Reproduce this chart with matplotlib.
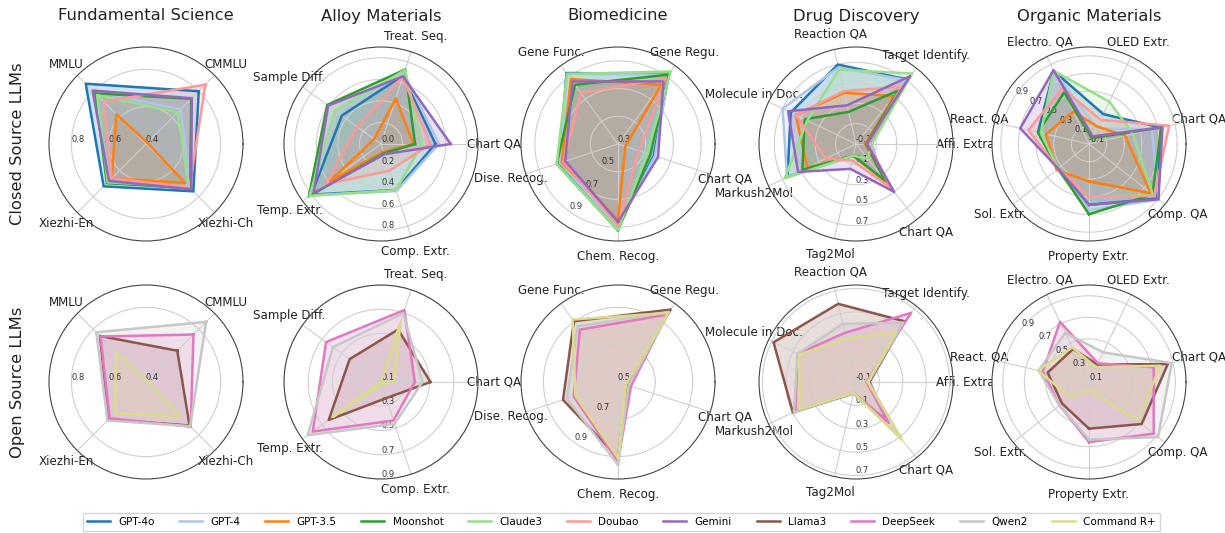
import numpy as np
import matplotlib.pyplot as plt

W, H = 1225, 533

closed_models = ["GPT-4o", "GPT-4", "GPT-3.5", "Moonshot", "Claude3", "Doubao", "Gemini"]
open_models = ["Llama3", "DeepSeek", "Qwen2", "Command R+"]
model_colors = {
    "GPT-4o": "#1f77b4", "GPT-4": "#aec7e8", "GPT-3.5": "#ff7f0e",
    "Moonshot": "#2ca02c", "Claude3": "#98df8a", "Doubao": "#ff9896",
    "Gemini": "#9467bd", "Llama3": "#8c564b", "DeepSeek": "#e377c2",
    "Qwen2": "#c7c7c7", "Command R+": "#dbdb8d",
}

domains = ["Fundamental Science", "Alloy Materials", "Biomedicine",
           "Drug Discovery", "Organic Materials"]

# categories listed counter-clockwise from the first one
fund_cats = ["CMMLU", "MMLU", "Xiezhi-En", "Xiezhi-Ch"]
alloy_cats = ["Chart QA", "Treat. Seq.", "Sample Diff.", "Temp. Extr.", "Comp. Extr."]
bio_cats = ["Chem. Recog.", "Chart QA", "Gene Regu.", "Gene Func.", "Dise. Recog."]
drug_cats = ["Affi. Extrac", "Target Identify.", "Reaction QA", "Molecule in Doc.",
             "Markush2Mol", "Tag2Mol", "Chart QA"]
org_cats = ["Property Extr.", "Comp. QA", "Chart QA", "OLED Extr.", "Electro. QA",
            "React. QA", "Sol. Extr."]

fund_closed = {
    "GPT-4o": [0.80, 0.857, 0.721, 0.759],
    "GPT-4": [0.662, 0.80, 0.675, 0.74],
    "GPT-3.5": [0.41, 0.625, 0.66, 0.695],
    "Moonshot": [0.743, 0.784, 0.697, 0.735],
    "Claude3": [0.64, 0.771, 0.69, 0.725],
    "Doubao": [0.85, 0.721, 0.66, 0.73],
    "Gemini": [0.747, 0.805, 0.68, 0.743],
}
fund_open = {
    "Llama3": [0.637, 0.749, 0.684, 0.73],
    "DeepSeek": [0.76, 0.745, 0.675, 0.739],
    "Qwen2": [0.856, 0.777, 0.692, 0.735],
    "Command R+": [0.41, 0.625, 0.637, 0.663],
}
alloy_closed = {
    "GPT-4o": [0.505, 0.67, 0.449, 0.80, 0.449],
    "GPT-4": [0.537, 0.688, 0.51, 0.81, 0.46],
    "GPT-3.5": [0.30, 0.445, 0.078, 0.586, 0.076],
    "Moonshot": [0.316, 0.727, 0.617, 0.828, 0.09],
    "Claude3": [0.38, 0.72, 0.527, 0.82, 0.45],
    "Doubao": [0.458, 0.654, 0.273, 0.633, 0.26],
    "Gemini": [0.647, 0.66, 0.606, 0.773, 0.10],
}
alloy_open = {
    "Llama3": [0.508, 0.555, 0.42, 0.633, 0.24],
    "DeepSeek": [0.379, 0.724, 0.66, 0.796, 0.434],
    "Qwen2": [0.442, 0.696, 0.59, 0.847, 0.463],
    "Command R+": [0.21, 0.622, 0.10, 0.591, 0.12],
}
bio_closed = {
    "GPT-4o": [0.899, 0.571, 0.927, 0.933, 0.745],
    "GPT-4": [0.899, 0.58, 0.918, 0.925, 0.74],
    "GPT-3.5": [0.85, 0.356, 0.828, 0.879, 0.727],
    "Moonshot": [0.923, 0.546, 0.918, 0.828, 0.765],
    "Claude3": [0.92, 0.52, 0.947, 0.925, 0.765],
    "Doubao": [0.887, 0.457, 0.888, 0.754, 0.715],
    "Gemini": [0.862, 0.604, 0.858, 0.858, 0.70],
}
bio_open = {
    "Llama3": [0.905, 0.55, 0.98, 0.903, 0.81],
    "DeepSeek": [0.926, 0.573, 0.947, 0.847, 0.75],
    "Qwen2": [0.944, 0.56, 0.965, 0.869, 0.788],
    "Command R+": [0.908, 0.545, 0.958, 0.914, 0.74],
}
drug_closed = {
    "GPT-4o": [0.046, 0.708, 0.698, 0.61, 0.645, 0.017, 0.315],
    "GPT-4": [0.056, 0.70, 0.67, 0.698, 0.65, 0.017, 0.30],
    "GPT-3.5": [-0.01, 0.50, 0.415, 0.555, 0.43, 0.02, 0.385],
    "Moonshot": [0.0, 0.572, 0.223, 0.458, 0.483, 0.017, 0.357],
    "Claude3": [0.056, 0.782, 0.648, 0.43, 0.674, 0.017, 0.085],
    "Doubao": [0.023, 0.617, 0.432, 0.555, 0.23, 0.066, 0.45],
    "Gemini": [0.007, 0.75, 0.289, 0.638, 0.53, 0.15, 0.50],
}
drug_open = {
    "Llama3": [0.017, 0.565, 0.586, 0.683, 0.50, 0.0, 0.33],
    "DeepSeek": [-0.01, 0.657, 0.331, 0.455, 0.477, -0.005, 0.35],
    "Qwen2": [0.007, 0.55, 0.41, 0.455, 0.49, -0.005, 0.52],
    "Command R+": [0.0, 0.455, 0.28, 0.44, 0.436, -0.005, 0.532],
}
org_closed = {
    "GPT-4o": [0.59, 0.89, 0.74, 0.275, 0.82, 0.494, 0.347],
    "GPT-4": [0.65, 0.91, 0.63, 0.10, 0.82, 0.45, 0.36],
    "GPT-3.5": [0.324, 0.797, 0.32, 0.12, 0.308, 0.40, 0.37],
    "Moonshot": [0.696, 0.82, 0.74, -0.025, 0.55, 0.494, 0.347],
    "Claude3": [0.497, 0.83, 0.41, 0.433, 0.82, 0.46, 0.347],
    "Doubao": [0.497, 0.846, 0.832, 0.204, 0.60, 0.605, 0.347],
    "Gemini": [0.59, 0.907, 0.755, -0.004, 0.829, 0.70, 0.347],
}
org_open = {
    "Llama3": [0.533, 0.725, 0.85, 0.28, 0.44, 0.494, 0.42],
    "DeepSeek": [0.658, 0.868, 0.716, 0.292, 0.72, 0.539, 0.45],
    "Qwen2": [0.634, 0.92, 0.888, 0.405, 0.607, 0.58, 0.45],
    "Command R+": [0.176, 0.673, 0.78, 0.252, 0.456, 0.588, 0.326],
}

# (categories, start angle, closed data, open data)
panels = [
    (fund_cats, 45, fund_closed, fund_open),
    (alloy_cats, 0, alloy_closed, alloy_open),
    (bio_cats, 270, bio_closed, bio_open),
    (drug_cats, 0, drug_closed, drug_open),
    (org_cats, 270, org_closed, org_open),
]
# radial axis: (ylim, ticks, label angle) for closed / open rows
r_closed = [((0.4, 0.92), [0.4, 0.6, 0.8], 180),
            ((0.0, 0.9), [0.0, 0.2, 0.4, 0.6, 0.8], 270),
            ((0.3, 1.0), [0.3, 0.5, 0.7, 0.9], 234),
            ((-0.1, 0.85), [-0.1, 0.1, 0.3, 0.5, 0.7], 270),
            ((-0.1, 1.0), [-0.1, 0.1, 0.3, 0.5, 0.7, 0.9], 147)]
r_open = [((0.4, 0.92), [0.4, 0.6, 0.8], 180),
          ((0.1, 0.9), [0.1, 0.3, 0.5, 0.7, 0.9], 270),
          ((0.5, 1.02), [0.5, 0.7, 0.9], 234),
          ((-0.1, 0.73), [-0.1, 0.1, 0.3, 0.5, 0.7], 270),
          ((0.1, 1.0), [0.1, 0.3, 0.5, 0.7, 0.9], 141)]

col_x = [146, 381, 618, 856, 1089]
row_y = [144, 382]
radius = 97

fig = plt.figure(figsize=(W / 100, H / 100), dpi=100)


def radar(cx, cy, cats, start, data, rset):
    (lo, hi), ticks, rpos = rset
    ax = fig.add_axes([(cx - radius) / W, 1 - (cy + radius) / H,
                       2 * radius / W, 2 * radius / H], projection="polar")
    n = len(cats)
    ang = np.deg2rad((start + 360.0 / n * np.arange(n)) % 360)
    ax.set_xticks(ang)
    ax.set_xticklabels(cats, fontsize=8.6, color="#222222")
    ax.set_ylim(lo, hi)
    ax.set_yticks(ticks)
    ax.set_yticklabels([f"{t:.1f}" for t in ticks], fontsize=6, color="#333333")
    ax.set_rlabel_position(rpos)
    ax.tick_params(axis="x", pad=1)
    ax.grid(color="#cfcfcf", lw=0.8)
    ax.spines["polar"].set_color("#444444")
    ax.spines["polar"].set_linewidth(0.8)
    closed_ang = np.append(ang, ang[0])
    for name, vals in data.items():
        v = vals + vals[:1]
        ax.plot(closed_ang, v, color=model_colors[name], lw=1.8, label=name)
        ax.fill(closed_ang, v, color=model_colors[name], alpha=0.2)
    return ax


handles = []
for i, (cats, start, dc, do) in enumerate(panels):
    a1 = radar(col_x[i], row_y[0], cats, start, dc, r_closed[i])
    a2 = radar(col_x[i], row_y[1], cats, start, do, r_open[i])
    fig.text(col_x[i] / W, 1 - 16 / H, domains[i], ha="center", va="center",
             fontsize=11.8, color="#222222")
    if i == 0:
        handles = a1.get_lines() + a2.get_lines()

fig.text(18 / W, 1 - row_y[0] / H, "Closed Source LLMs", rotation=90,
         ha="center", va="center", fontsize=11.8, color="#222222")
fig.text(18 / W, 1 - row_y[1] / H, "Open Source LLMs", rotation=90,
         ha="center", va="center", fontsize=11.8, color="#222222")

fig.legend(handles, [h.get_label() for h in handles], loc="lower left",
           bbox_to_anchor=(83 / W, 2 / H, (1160 - 83) / W, 20 / H),
           mode="expand", ncol=11, fontsize=7.5, frameon=True,
           handlelength=2.2, borderaxespad=0, fancybox=False, edgecolor="#cccccc")

fig.savefig("out.png", dpi=100)
